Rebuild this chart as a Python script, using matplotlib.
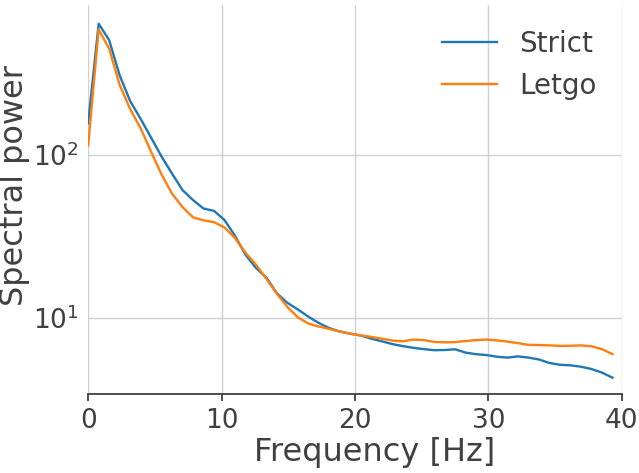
import matplotlib
matplotlib.use("Agg")
import matplotlib.pyplot as plt
import numpy as np

# frequency bins (evenly spaced, ~0.786 Hz resolution)
freqs = np.arange(51) * 0.786

strict = [157, 640, 508, 309, 215, 167, 128, 98, 77, 61,
          53, 47, 45.5, 40, 32, 24.5, 20.3, 17.7, 14.2, 12.4,
          11.3, 10.2, 9.32, 8.68, 8.27, 8.03, 7.81, 7.48, 7.20, 6.93,
          6.73, 6.57, 6.45, 6.35, 6.37, 6.43, 6.14, 6.00, 5.93, 5.79,
          5.72, 5.82, 5.72, 5.57, 5.30, 5.17, 5.13, 5.03, 4.87, 4.63,
          4.31]

letgo = [115, 590, 450, 270, 192, 146, 105, 76, 58, 48,
         41.5, 39.8, 38.8, 36, 31, 25.2, 21.3, 17.4, 14.1, 11.7,
         10.1, 9.25, 8.87, 8.58, 8.27, 8.01, 7.83, 7.67, 7.48, 7.28,
         7.20, 7.38, 7.33, 7.14, 7.10, 7.12, 7.23, 7.33, 7.38, 7.30,
         7.17, 7.02, 6.85, 6.83, 6.80, 6.75, 6.76, 6.80, 6.71, 6.45,
         6.01]

text_col = "0.25"

fig = plt.figure(figsize=(6.39, 4.73), dpi=100)
ax = fig.add_axes([0.138, 0.167, 0.835, 0.822])

ax.plot(freqs, strict, color="#1f77b4", lw=1.7, label="Strict")
ax.plot(freqs, letgo, color="#ff7f0e", lw=1.7, label="Letgo")

ax.set_yscale("log")
ax.set_xlim(0, 40)
ax.set_ylim(3.42, 832)
ax.set_xticks([0, 10, 20, 30, 40])
ax.yaxis.set_minor_locator(matplotlib.ticker.NullLocator())

ax.grid(True, color="0.82", lw=1.0)
ax.set_axisbelow(True)
for side in ["top", "right", "left"]:
    ax.spines[side].set_visible(False)
ax.spines["bottom"].set_color(text_col)
ax.spines["bottom"].set_linewidth(1.3)

ax.tick_params(axis="x", length=5, width=1.3, color=text_col,
               labelsize=19, labelcolor=text_col, pad=5)
ax.tick_params(axis="y", length=0, labelsize=19, labelcolor=text_col, pad=7)

ax.set_xlabel("Frequency [Hz]", fontsize=23, color=text_col)
ax.set_ylabel("Spectral power", fontsize=23, color=text_col)
ax.xaxis.set_label_coords(0.537, -0.11)
ax.yaxis.set_label_coords(-0.109, 0.537)

leg = ax.legend(loc="upper right", frameon=False, fontsize=20)
for t in leg.get_texts():
    t.set_color(text_col)

fig.savefig("out.png", dpi=100)
